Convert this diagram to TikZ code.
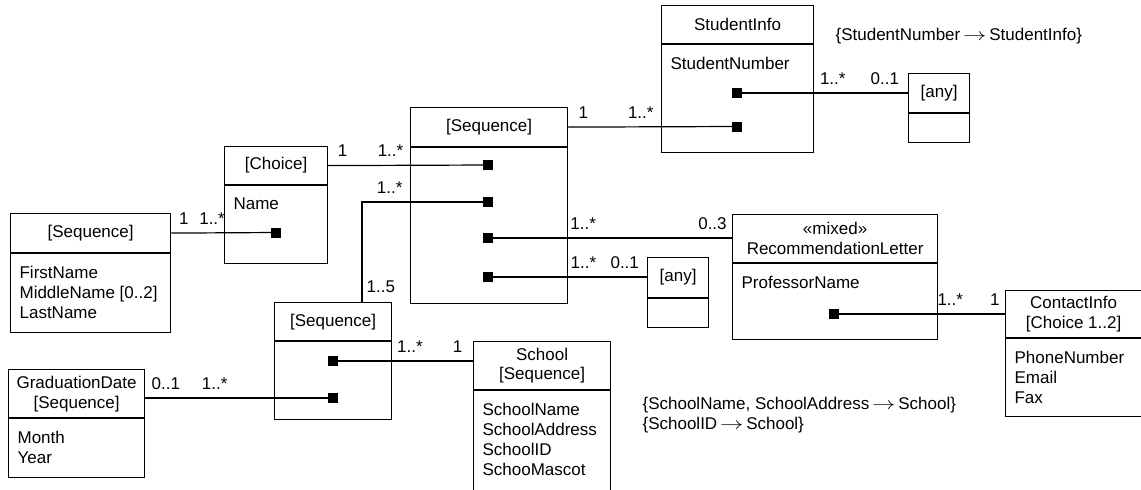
\documentclass[tikz,border=0pt]{standalone}
\usepackage{fontspec}
\setmainfont{Liberation Sans}
\usetikzlibrary{positioning}
\newcommand\keyarrow{\,\scalebox{1.35}[1]{$\rightarrow$}\,}
\begin{document}
\begin{tikzpicture}[x=1pt,y=-1pt,line width=1.2pt,
  font=\fontsize{17}{20}\selectfont,
  box/.style={draw,anchor=north west,inner sep=0pt,align=center},
  attr/.style={anchor=north west,inner sep=0pt,xshift=9pt,yshift=-12pt,align=left},
  port/.style={fill,inner sep=0pt,minimum size=10pt},
  mult/.style={above=8pt,inner sep=0pt}]
\useasboundingbox (0,0) rectangle (1141,490);
% Boites : en-tete puis corps
\node[box,minimum width=152pt,minimum height=38pt] (sih) at (661,5) {StudentInfo};
\node[box,minimum width=152pt,minimum height=108pt] (sib) at (sih.south west) {};
\node[attr] (sia) at (sib.north west) {StudentNumber};
\node[box,minimum width=61pt,minimum height=39pt] (any1h) at (908,73) {[any]};
\node[box,minimum width=61pt,minimum height=29pt] (any1b) at (any1h.south west) {};
\node[box,minimum width=157pt,minimum height=39pt] (seq1h) at (410,107) {[Sequence]};
\node[box,minimum width=157pt,minimum height=156pt] (seq1b) at (seq1h.south west) {};
\node[box,minimum width=61pt,minimum height=40pt] (any2h) at (647,257) {[any]};
\node[box,minimum width=61pt,minimum height=29pt] (any2b) at (any2h.south west) {};
\node[box,minimum width=205pt,minimum height=48pt] (rech) at (732,214) {«mixed»\\RecommendationLetter};
\node[box,minimum width=205pt,minimum height=76pt] (recb) at (rech.south west) {};
\node[attr] (reca) at (recb.north west) {ProfessorName};
\node[box,minimum width=140pt,minimum height=47pt] (cih) at (1005,290) {\hspace*{-4pt}ContactInfo\\\hspace*{-4pt}[Choice 1..2]};
\node[box,minimum width=140pt,minimum height=78pt] (cib) at (cih.south west) {};
\node[attr] (cia) at (cib.north west) {PhoneNumber\\Email\\Fax};
\node[box,minimum width=103pt,minimum height=38pt] (chh) at (224,146) {[Choice]};
\node[box,minimum width=103pt,minimum height=78pt] (chb) at (chh.south west) {};
\node[attr] (cha) at (chb.north west) {Name};
\node[box,minimum width=160pt,minimum height=39pt] (seq0h) at (10,213) {[Sequence]};
\node[box,minimum width=160pt,minimum height=79pt] (seq0b) at (seq0h.south west) {};
\node[attr] (seq0a) at (seq0b.north west) {FirstName\\MiddleName [0..2]\\LastName};
\node[box,minimum width=117pt,minimum height=38pt] (seq2h) at (274,302) {[Sequence]};
\node[box,minimum width=117pt,minimum height=78pt] (seq2b) at (seq2h.south west) {};
\node[box,minimum width=137pt,minimum height=48pt] (schh) at (473,341) {School\\{}[Sequence]};
\node[box,minimum width=137pt,minimum height=120pt] (schb) at (schh.south west) {};
\node[attr] (scha) at (schb.north west) {SchoolName\\SchoolAddress\\SchoolID\\SchooMascot};
\node[box,minimum width=136pt,minimum height=48pt] (gdh) at (8,369) {GraduationDate\\{}[Sequence]};
\node[box,minimum width=136pt,minimum height=59pt] (gdb) at (gdh.south west) {};
\node[attr] (gda) at (gdb.north west) {Month\\Year};
% Contraintes
\node[anchor=west,inner sep=0pt] (key1) at (835,36) {\{StudentNumber\keyarrow StudentInfo\}};
\node[anchor=north west,inner sep=0pt,align=left] (key2) at (642,397) {\{SchoolName, SchoolAddress\keyarrow School\}\\\{SchoolID\keyarrow School\}};
% Ports
\node[port] (sip1) at (737,93) {};
\node[port] (sip2) at (737,126.5) {};
\foreach \n/\y in {1/165,2/202,3/238,4/277}
  \node[port] (s1p\n) at (488,\y) {};
\node[port] (chp) at (276,232.5) {};
\node[port] (recp) at (834,314) {};
\node[port] (s2p1) at (333,361) {};
\node[port] (s2p2) at (333,398) {};
\coordinate (k1) at (362,202);
% Liens avec multiplicites
\draw (sip1.center) -- node[mult,pos=.56] (m1a) {1..*} node[mult,pos=.865] (m1b) {0..1} (sip1 -| any1h.west);
\draw (seq1h.east) -- node[mult,pos=.09] (m2a) {1} node[mult,pos=.43] (m2b) {1..*} (sip2.center);
\draw (chh.east) -- node[mult,pos=.09] (m3a) {1} node[mult,pos=.39] (m3b) {1..*} (s1p1.center);
\draw (s1p2.center) -- node[mult,pos=.78] (m4a) {1..*} (k1) -- node[right=4pt,inner sep=0pt,pos=.85] (m4b) {1..5} (k1 |- seq2h.north);
\draw (seq0h.east) -- node[mult,pos=.12] (m5a) {1} node[mult,pos=.39] (m5b) {1..*} (chp.center);
\draw (s1p3.center) -- node[mult,pos=.39] (m6a) {1..*} node[mult,pos=.92] (m6b) {0..3} (s1p3 -| rech.west);
\draw (s1p4.center) -- node[mult,pos=.6] (m7a) {1..*} node[mult,pos=.86] (m7b) {0..1} (s1p4 -| any2h.west);
\draw (recp.center) -- node[mult,pos=.68] (m8a) {1..*} node[mult,pos=.94] (m8b) {1} (recp -| cih.west);
\draw (s2p1.center) -- node[mult,pos=.55] (m9a) {1..*} node[mult,pos=.89] (m9b) {1} (s2p1 -| schh.west);
\draw (s2p2 -| gdh.east) -- node[mult,pos=.11] (m10a) {0..1} node[mult,pos=.37] (m10b) {1..*} (s2p2.center);
\end{tikzpicture}
\end{document}
